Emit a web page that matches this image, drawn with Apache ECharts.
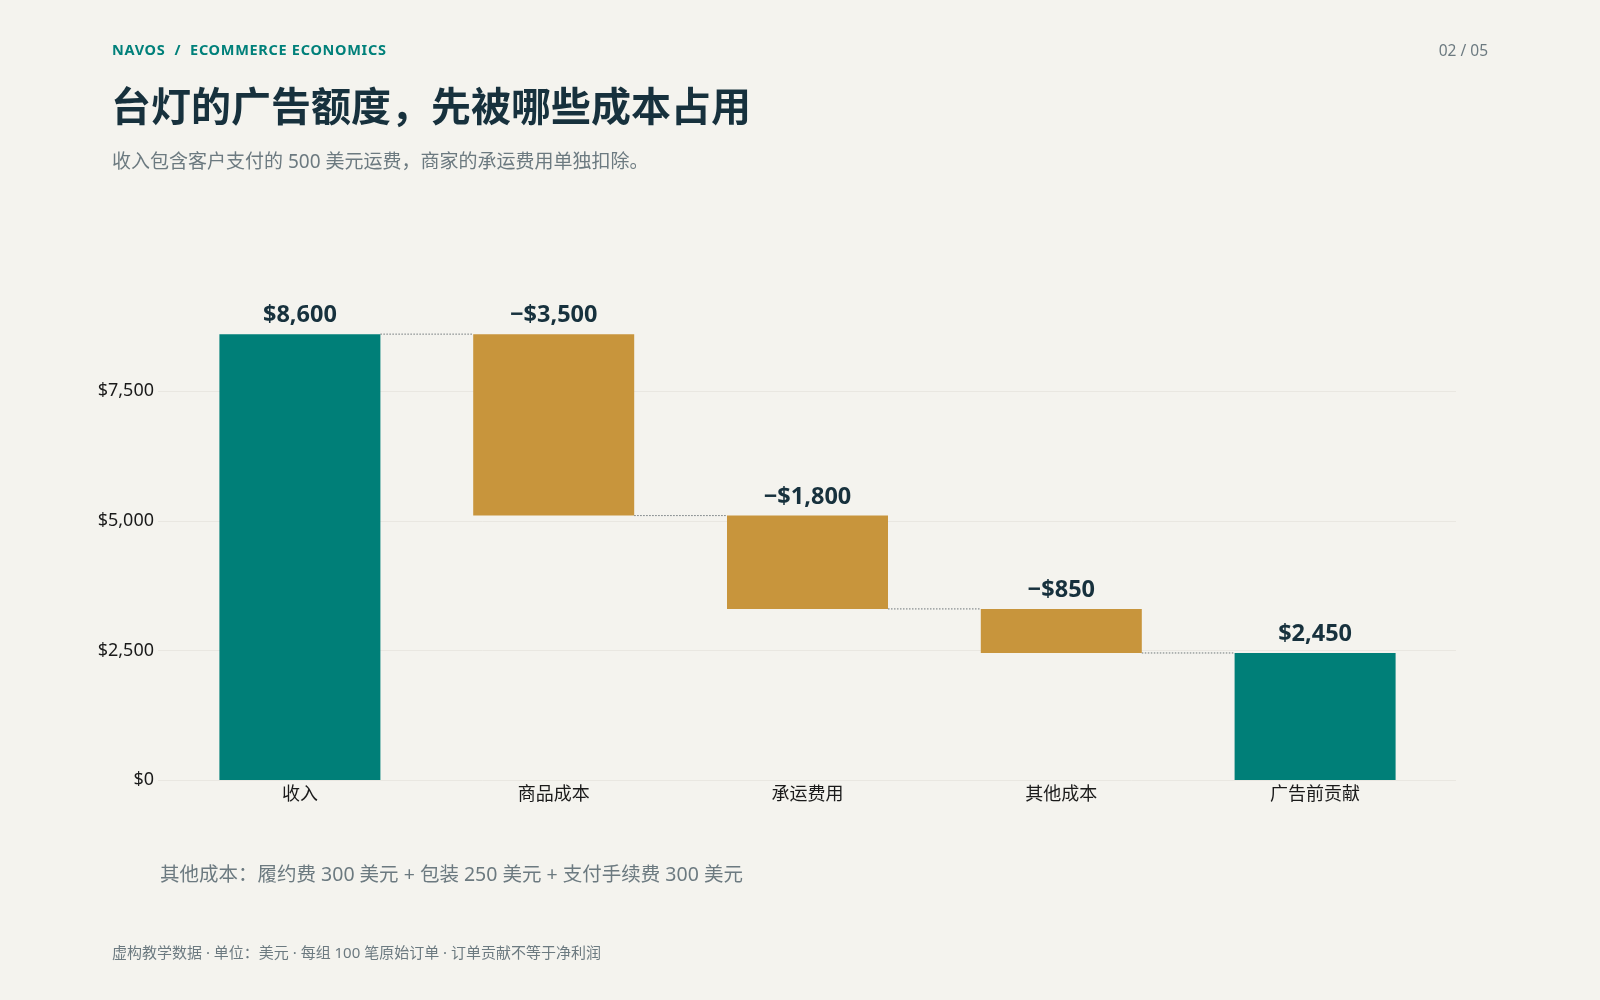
<!DOCTYPE html>
<html lang="zh">
<head>
    <meta charset="UTF-8">
    <title>台灯的广告额度</title>
    <script src="https://cdn.jsdelivr.net/npm/echarts@6/dist/echarts.min.js"></script>
    <style>
        html, body {
            margin: 0;
            padding: 0;
            background-color: #f4f3ee;
        }
        #page {
            position: relative;
            width: 1600px;
            height: 1000px;
            font-family: 'Noto Sans', 'Noto Sans CJK SC', sans-serif;
        }
        #container {
            position: absolute;
            left: 0;
            top: 0;
            width: 1600px;
            height: 1000px;
        }
        .txt {
            position: absolute;
            white-space: nowrap;
        }
        #kicker {
            left: 112px;
            top: 39px;
            font-size: 14.5px;
            font-weight: 700;
            color: #00807a;
            letter-spacing: 0.7px;
        }
        #pageno {
            right: 112px;
            top: 39px;
            font-size: 15.5px;
            color: #6c7a80;
        }
        #title {
            left: 111px;
            top: 75px;
            font-size: 40px;
            font-weight: 700;
            color: #17313d;
            font-family: 'Noto Sans CJK SC', sans-serif;
        }
        #subtitle {
            left: 112px;
            top: 146px;
            font-size: 19px;
            color: #6c7a80;
        }
        #note {
            left: 160px;
            top: 858px;
            font-size: 19.5px;
            color: #6c7a80;
        }
        #footer {
            left: 112px;
            top: 941px;
            font-size: 15px;
            color: #6c7a80;
        }
    </style>
</head>
<body>
<div id="page">
    <div id="container"></div>
    <div class="txt" id="kicker">NAVOS &nbsp;/&nbsp; ECOMMERCE ECONOMICS</div>
    <div class="txt" id="pageno">02 / 05</div>
    <div class="txt" id="title">台灯的广告额度，先被哪些成本占用</div>
    <div class="txt" id="subtitle">收入包含客户支付的 500 美元运费，商家的承运费用单独扣除。</div>
    <div class="txt" id="note">其他成本：履约费 300 美元 + 包装 250 美元 + 支付手续费 300 美元</div>
    <div class="txt" id="footer">虚构教学数据 · 单位：美元 · 每组 100 笔原始订单 · 订单贡献不等于净利润</div>
</div>
<script>
    // 瀑布图数据
    const categories = ['收入', '商品成本', '承运费用', '其他成本', '广告前贡献'];
    const amounts = [8600, -3500, -1800, -850, 2450];
    const isTotal = [true, false, false, false, true];
    const yTicks = [0, 2500, 5000, 7500];

    const TEAL = '#007f78';
    const GOLD = '#c8953c';

    // 计算每根柱子的底部和高度
    let running = 0;
    const bases = [], heights = [], levels = [];
    amounts.forEach((v, i) => {
        if (isTotal[i]) {
            bases.push(0);
            heights.push(v);
            running = v;
        } else {
            const next = running + v;
            bases.push(Math.min(running, next));
            heights.push(Math.abs(v));
            running = next;
        }
        levels.push(running);
    });

    const fmt = (v) => (v < 0 ? '\u2212$' : '$') + Math.abs(v).toLocaleString('en-US');

    const dom = document.getElementById('container');
    const myChart = echarts.init(dom, null, {renderer: 'canvas'});

    const yMin = 0, yMax = 9000, yStep = 2500;
    const BAR_W = 161;
    const fontFam = "'Noto Sans', 'Noto Sans CJK SC', sans-serif";

    const option = {
        backgroundColor: '#f4f3ee',
        animation: false,
        textStyle: {fontFamily: fontFam},
        grid: [
            {left: 158, right: 144, top: 313.4, bottom: 220},
            {left: 173, right: 158, top: 313.4, bottom: 220}
        ],
        xAxis: [
            {gridIndex: 0, type: 'value', min: 0, max: 1, show: false},
            {
                gridIndex: 1,
                type: 'category',
                data: categories,
                axisLine: {show: false},
                axisTick: {show: false},
                axisLabel: {color: '#1a1a1a', fontSize: 18, margin: 6, fontFamily: fontFam}
            }
        ],
        yAxis: [
            {
                gridIndex: 0,
                type: 'value',
                min: yMin,
                max: yMax,
                interval: yStep,
                axisLine: {show: false},
                axisTick: {show: false},
                axisLabel: {
                    color: '#1a1a1a',
                    fontSize: 18,
                    margin: 4,
                    showMaxLabel: false,
                    formatter: (v) => yTicks.indexOf(v) >= 0 ? '$' + v.toLocaleString('en-US') : ''
                },
                splitLine: {show: true, showMaxLine: false, lineStyle: {color: '#e9e7e1', width: 1}}
            },
            {gridIndex: 1, type: 'value', min: yMin, max: yMax, show: false}
        ],
        series: [
            {
                type: 'bar',
                xAxisIndex: 1,
                yAxisIndex: 1,
                stack: 'w',
                barWidth: BAR_W,
                itemStyle: {color: 'transparent'},
                data: bases,
                silent: true
            },
            {
                type: 'bar',
                xAxisIndex: 1,
                yAxisIndex: 1,
                stack: 'w',
                barWidth: BAR_W,
                data: heights.map((h, i) => ({
                    value: h,
                    itemStyle: {color: isTotal[i] ? TEAL : GOLD}
                })),
                label: {
                    show: true,
                    position: 'top',
                    distance: 7,
                    fontSize: 23.5,
                    fontWeight: 'bold',
                    color: '#17313d',
                    formatter: (p) => fmt(amounts[p.dataIndex])
                }
            },
            {
                // 柱子之间的虚线连接
                type: 'custom',
                xAxisIndex: 1,
                yAxisIndex: 1,
                silent: true,
                data: levels.slice(0, levels.length - 1).map((lv, i) => [i, lv]),
                renderItem: function (params, api) {
                    const i = api.value(0);
                    const lv = api.value(1);
                    const a = api.coord([i, lv]);
                    const b = api.coord([i + 1, lv]);
                    return {
                        type: 'line',
                        shape: {x1: a[0] + BAR_W / 2, y1: a[1], x2: b[0] - BAR_W / 2, y2: b[1]},
                        style: {stroke: '#6f777a', lineWidth: 1, lineDash: [1.5, 1.5]}
                    };
                }
            }
        ]
    };

    myChart.setOption(option);
    window.addEventListener('resize', myChart.resize);
</script>
</body>
</html>
